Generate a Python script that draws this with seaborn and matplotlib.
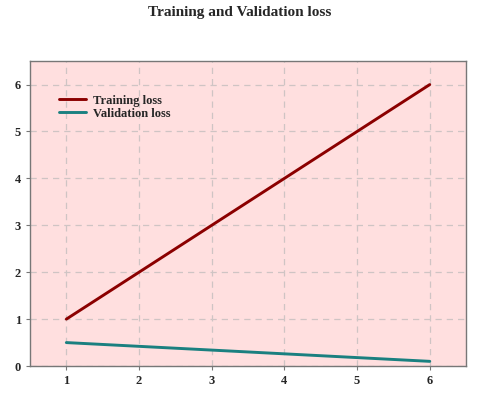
import pandas as pd
import matplotlib
matplotlib.use("Agg")
import matplotlib.pyplot as plt
import seaborn as sns

# Data
epochs = [1, 2, 3, 4, 5, 6]
training_loss = [1, 2, 3, 4, 5, 6]
validation_loss = [0.5, 0.42, 0.34, 0.26, 0.18, 0.1]

data = pd.DataFrame({
    "Epoch": epochs * 2,
    "Loss": training_loss + validation_loss,
    "Series": ["Training loss"] * len(epochs) + ["Validation loss"] * len(epochs),
})

sns.set_style("ticks")
plt.rcParams["font.family"] = ["Liberation Serif", "DejaVu Serif"]
plt.rcParams["font.weight"] = "bold"

fig = plt.figure(figsize=(4.8, 3.97), dpi=100)
ax = fig.add_axes([0.0625, 0.078, 0.9085, 0.768])
ax.set_facecolor("#ffdfdf")

sns.lineplot(
    x="Epoch",
    y="Loss",
    hue="Series",
    data=data,
    palette=["#8b0000", "#1a8080"],
    linewidth=2.1,
    ax=ax,
)

ax.set_xlim(0.5, 6.5)
ax.set_ylim(0, 6.5)
ax.set_xticks(epochs)
ax.set_yticks(range(0, 7))
ax.set_xlabel("")
ax.set_ylabel("")
ax.grid(True, linestyle=(0, (5, 4)), color="#cfc4c4", linewidth=0.9)
ax.set_axisbelow(True)
for s in ax.spines.values():
    s.set_color("#777777")
    s.set_linewidth(1.0)
ax.tick_params(axis="both", labelsize=9, length=3, color="#777777")
for lbl in ax.get_xticklabels() + ax.get_yticklabels():
    lbl.set_fontweight("bold")

leg = ax.legend(loc="upper left", bbox_to_anchor=(0.05, 0.915), frameon=False,
                fontsize=9, handlelength=2.1, handletextpad=0.6,
                borderaxespad=0.2, labelspacing=0.1)
for t in leg.get_texts():
    t.set_fontweight("bold")

fig.suptitle("Training and Validation loss", fontsize=11, fontweight="bold", y=0.985)

plt.savefig("out.png", dpi=100)
